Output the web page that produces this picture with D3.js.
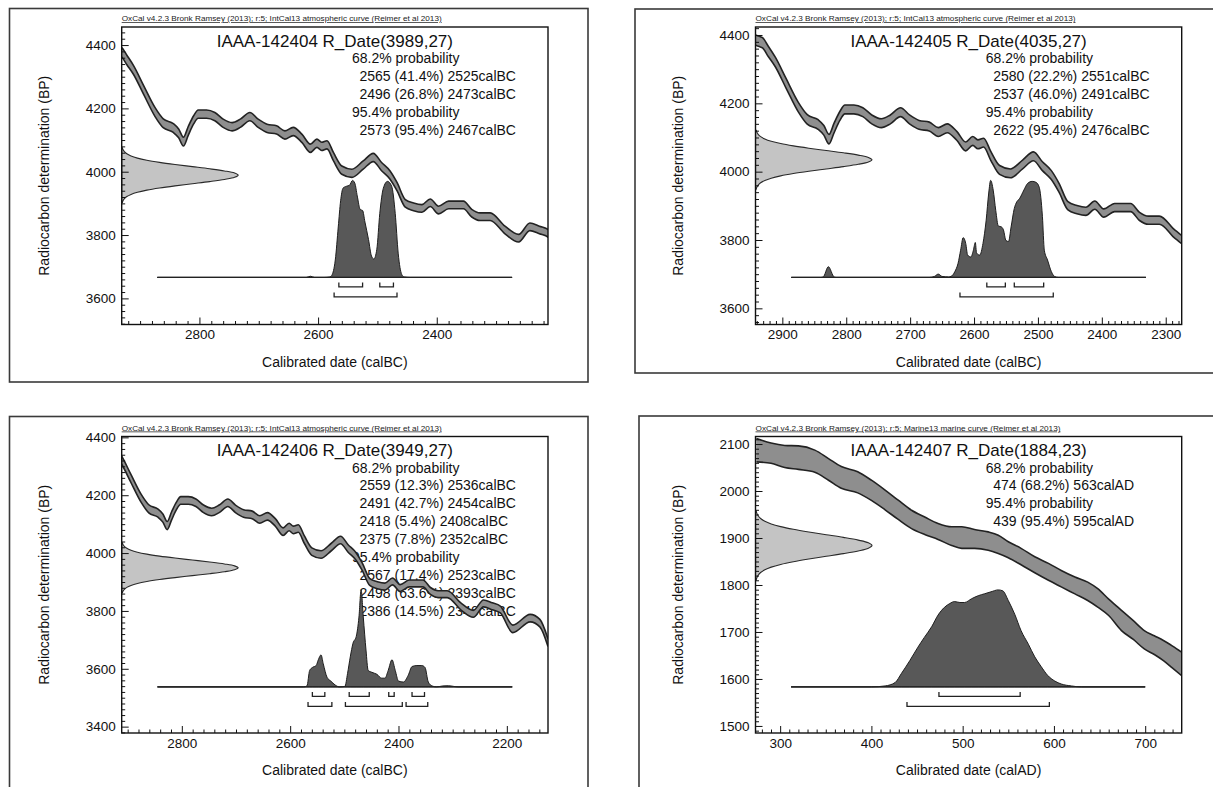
<!DOCTYPE html>
<html>
<head>
<meta charset="utf-8">
<script src="https://cdn.jsdelivr.net/npm/d3@7"></script>
<style>
  body { margin: 0; background: #fff; }
  svg { display: block; font-family: "Liberation Sans", Arial, sans-serif; }
</style>
</head>
<body>
<svg id="chart" width="1213" height="787"></svg>
<script>
(function(d3) {
    "use strict";

// IntCal13 atmospheric curve (calBC, BP mean, BP 1 sigma)
var intcalYear = [2943, 2936, 2931, 2922, 2911, 2894, 2875, 2861, 2844, 2835, 2827, 2819, 2810, 2802, 2788,
    2774, 2760, 2745, 2731, 2715, 2701, 2686, 2670, 2656, 2642, 2627, 2613, 2602, 2594, 2585, 2574, 2560,
    2543, 2524, 2507, 2493, 2479, 2467, 2453, 2439, 2425, 2411, 2397, 2380, 2355, 2341, 2327, 2310, 2285,
    2262, 2243, 2227, 2212, 2189, 2157, 2139, 2124];
var intcalBP = [4386, 4381, 4377, 4352, 4321, 4258, 4189, 4153, 4138, 4121, 4095, 4128, 4163, 4182, 4182,
    4174, 4153, 4142, 4153, 4174, 4153, 4137, 4132, 4116, 4127, 4105, 4074, 4090, 4080, 4085, 4047, 4005,
    3995, 4021, 4045, 4016, 3990, 3953, 3900, 3889, 3884, 3902, 3879, 3895, 3895, 3869, 3858, 3858, 3816,
    3790, 3826, 3816, 3805, 3738, 3775, 3758, 3690];
var intcalSigma = [15, 15, 15, 15, 14, 14, 14, 14, 14, 14, 14, 14, 13, 13, 13,
    13, 13, 13, 13, 13, 13, 13, 13, 13, 13, 13, 13, 13, 13, 13, 13, 13,
    13, 13, 13, 13, 13, 13, 12, 12, 12, 12, 12, 12, 12, 12, 12, 12, 12,
    12, 12, 12, 12, 13, 13, 13, 13];

// Marine13 curve (calAD, upper and lower edge of the band, BP)
var marineYear = [274, 290, 305, 320, 338, 353, 367, 385, 400, 415, 429, 444, 459, 473, 488, 499, 513, 528,
    539, 550, 564, 579, 594, 608, 623, 637, 648, 660, 674, 687, 699, 710, 720, 730, 740];
var marineHi = [2112, 2102, 2097, 2096, 2087, 2069, 2052, 2041, 2023, 2002, 1981, 1959, 1944, 1931, 1924,
    1924, 1918, 1913, 1906, 1892, 1878, 1860, 1846, 1831, 1817, 1806, 1792, 1770, 1746, 1724, 1703, 1692,
    1682, 1670, 1657];
var marineLo = [2062, 2059, 2050, 2046, 2040, 2023, 2006, 1996, 1980, 1960, 1940, 1920, 1907, 1897, 1884,
    1878, 1878, 1874, 1867, 1858, 1843, 1826, 1810, 1796, 1781, 1767, 1753, 1735, 1703, 1684, 1664, 1652,
    1639, 1623, 1607];

// radiocarbon likelihood on the BP axis (offset in sigma, relative height)
var likeOffset = [3.2, 3, 2.75, 2.5, 2.25, 2, 1.75, 1.5, 1.25, 1, 0.75, 0.5, 0.25, 0,
    -0.25, -0.5, -0.75, -1, -1.25, -1.5, -1.75, -2, -2.25, -2.5, -2.75, -3, -3.2];
var likeDensity = [0.006, 0.011, 0.023, 0.044, 0.08, 0.135, 0.216, 0.325, 0.458, 0.607, 0.755, 0.882, 0.969, 1,
    0.969, 0.882, 0.755, 0.607, 0.458, 0.325, 0.216, 0.135, 0.08, 0.044, 0.023, 0.011, 0.006];

var sampleName = ["IAAA-142404", "IAAA-142405", "IAAA-142406", "IAAA-142407"];
var sampleBP = [3989, 4035, 3949, 1884];
var sampleErr = [27, 27, 27, 23];
var calUnit = ["calBC", "calBC", "calBC", "calAD"];

// calibrated distributions (calendar year, relative probability)
var post1Year = [2871, 2620, 2613, 2606, 2590, 2580, 2577, 2571, 2566, 2562, 2558, 2552, 2547, 2542, 2538,
    2534, 2529, 2525, 2521, 2515, 2510, 2506, 2501, 2496, 2490, 2483, 2476, 2470, 2465, 2459, 2455, 2445, 2273];
var post1Prob = [0, 0, 0.012, 0, 0, 0.005, 0.02, 0.18, 0.52, 0.79, 0.92, 0.94, 0.95, 1.0, 0.97,
    0.84, 0.70, 0.69, 0.57, 0.39, 0.22, 0.19, 0.29, 0.66, 0.92, 0.99, 0.94, 0.66, 0.25, 0.03, 0.005, 0, 0];

var post2Year = [2886, 2840, 2836, 2828, 2819, 2815, 2670, 2662, 2656, 2650, 2640, 2636, 2630, 2625, 2621,
    2617, 2613, 2610, 2605, 2601, 2598, 2596, 2591, 2586, 2581, 2577, 2574, 2570, 2566, 2562, 2557, 2554,
    2550, 2546, 2542, 2537, 2533, 2529, 2522, 2516, 2509, 2503, 2498, 2493, 2490, 2485, 2479, 2474, 2468, 2331];
var post2Prob = [0, 0, 0.005, 0.11, 0.005, 0, 0, 0.01, 0.034, 0.01, 0.005, 0.01, 0.06, 0.145, 0.28,
    0.41, 0.35, 0.23, 0.21, 0.28, 0.36, 0.25, 0.23, 0.35, 0.59, 0.87, 1.0, 0.9, 0.69, 0.53, 0.52, 0.49,
    0.38, 0.37, 0.52, 0.71, 0.78, 0.81, 0.9, 0.97, 0.99, 0.98, 0.93, 0.63, 0.28, 0.18, 0.06, 0.01, 0, 0];

var post3Year = [2845, 2575, 2569, 2564, 2559, 2552, 2548, 2543, 2539, 2532, 2525, 2517, 2509, 2499, 2494,
    2489, 2484, 2478, 2473, 2469, 2465, 2460, 2456, 2449, 2440, 2431, 2425, 2419, 2412, 2406, 2400, 2391,
    2382, 2375, 2366, 2357, 2351, 2345, 2338, 2330, 2318, 2308, 2298, 2290, 2190];
var post3Prob = [0, 0, 0.01, 0.17, 0.2, 0.22, 0.28, 0.33, 0.24, 0.10, 0.06, 0.02, 0, 0.005, 0.14,
    0.31, 0.45, 0.52, 0.72, 1.0, 0.72, 0.38, 0.17, 0.15, 0.13, 0.09, 0.09, 0.17, 0.28, 0.17, 0.06, 0.05,
    0.12, 0.21, 0.22, 0.22, 0.2, 0.05, 0.01, 0, 0.01, 0.012, 0.005, 0, 0];

var post4Year = [312, 400, 415, 426, 433, 442, 451, 458, 466, 473, 480, 486, 491, 497, 502, 510, 517, 524,
    531, 539, 544, 550, 557, 564, 572, 579, 586, 593, 601, 608, 619, 630, 700];
var post4Prob = [0, 0, 0.01, 0.045, 0.14, 0.27, 0.41, 0.51, 0.62, 0.74, 0.82, 0.86, 0.88, 0.87, 0.87, 0.91,
    0.94, 0.96, 0.98, 1.0, 0.99, 0.89, 0.75, 0.58, 0.44, 0.31, 0.21, 0.12, 0.06, 0.03, 0.01, 0, 0];

// 68.2% and 95.4% ranges with their share
var ranges68 = [[[2565, 2525], [2496, 2473]], [[2580, 2551], [2537, 2491]],
    [[2559, 2536], [2491, 2454], [2418, 2408], [2375, 2352]], [[474, 563]]];
var pct68 = [[41.4, 26.8], [22.2, 46.0], [12.3, 42.7, 5.4, 7.8], [68.2]];
var ranges95 = [[[2573, 2467]], [[2622, 2476]], [[2567, 2523], [2498, 2393], [2386, 2346]], [[439, 595]]];
var pct95 = [[95.4], [95.4], [17.4, 63.6, 14.5], [95.4]];

// axes
var xDomains = [[2931, 2212.5], [2942, 2275], [2911, 2124], [273, 740]];
var yDomains = [[3517.5, 4457], [3552.7, 4423.4], [3378, 4403], [1485, 2116]];
var xMajor = [[2800, 2600, 2400], [2900, 2800, 2700, 2600, 2500, 2400, 2300],
    [2800, 2600, 2400, 2200], [300, 400, 500, 600, 700]];
var yMajor = [[3600, 3800, 4000, 4200, 4400], [3600, 3800, 4000, 4200, 4400],
    [3400, 3600, 3800, 4000, 4200, 4400], [1500, 1600, 1700, 1800, 1900, 2000, 2100]];
var xMinorStep = [20, 10, 20, 10];
var yMinorStep = [20, 20, 20, 10];
var xTitle = ["Calibrated date (calBC)", "Calibrated date (calBC)", "Calibrated date (calBC)", "Calibrated date (calAD)"];
var headers = [
    "OxCal v4.2.3 Bronk Ramsey (2013); r:5; IntCal13 atmospheric curve (Reimer et al 2013)",
    "OxCal v4.2.3 Bronk Ramsey (2013); r:5; IntCal13 atmospheric curve (Reimer et al 2013)",
    "OxCal v4.2.3 Bronk Ramsey (2013); r:5; IntCal13 atmospheric curve (Reimer et al 2013)",
    "OxCal v4.2.3 Bronk Ramsey (2013); r:5; Marine13 marine curve (Reimer et al 2013)"];

var postYear = [post1Year, post2Year, post3Year, post4Year],
    postProb = [post1Prob, post2Prob, post3Prob, post4Prob];

// frame [x, y, w, h] and plot box [left, top, right, bottom]
var layout = [
    {frame: [9.5, 8.5, 578.5, 373.5], plot: [121.7, 27, 548, 324.5]},
    {frame: [635, 9, 620, 364], plot: [755.5, 27, 1181.7, 324.5]},
    {frame: [9.5, 416.5, 578.5, 420], plot: [121.7, 436.5, 548, 733]},
    {frame: [639, 416, 620, 420], plot: [755.5, 436.5, 1181.7, 733]}
];

var intcal = intcalYear.map(function(yr, k) {
    return {t: yr, lo: intcalBP[k] - intcalSigma[k], hi: intcalBP[k] + intcalSigma[k]};
});
var marine = marineYear.map(function(yr, k) {
    return {t: yr, lo: marineLo[k], hi: marineHi[k]};
});

var svg = d3.select("#chart");
var defs = svg.append("defs");

layout.forEach(function(lay, i) {
    var L = lay.plot[0], T = lay.plot[1], R = lay.plot[2], B = lay.plot[3],
        x = d3.scaleLinear().domain(xDomains[i]).range([L, R]),
        y = d3.scaleLinear().domain(yDomains[i]).range([B, T]),
        base = T + 250.4,
        p = d3.scaleLinear().domain([0, 1]).range([base, base - 97]),
        g = svg.append("g");

    defs.append("clipPath")
        .attr("id", "clip" + i)
        .append("rect")
        .attr("x", L).attr("y", T)
        .attr("width", R - L).attr("height", B - T);

    g.append("rect")
        .attr("x", lay.frame[0]).attr("y", lay.frame[1])
        .attr("width", lay.frame[2]).attr("height", lay.frame[3])
        .attr("fill", "none")
        .attr("stroke", "#3a3a3a")
        .attr("stroke-width", 1.6);

    // texts (drawn first: the curves sit on top of them as in OxCal)
    g.append("text")
        .attr("x", L).attr("y", T - 6)
        .attr("font-size", 7.5)
        .attr("text-decoration", "underline")
        .attr("textLength", i === 3 ? 305 : 320)
        .attr("lengthAdjust", "spacingAndGlyphs")
        .attr("fill", "#222")
        .text(headers[i]);

    g.append("text")
        .attr("x", (L + R) / 2).attr("y", T + 19.5)
        .attr("text-anchor", "middle")
        .attr("font-size", 17)
        .attr("fill", "#111")
        .text(sampleName[i] + " R_Date(" + sampleBP[i] + "," + sampleErr[i] + ")");

    var lines = [{s: "68.2% probability", ind: 0}];
    ranges68[i].forEach(function(r, k) {
        lines.push({s: r[0] + " (" + pct68[i][k].toFixed(1) + "%) " + r[1] + calUnit[i], ind: 1});
    });
    lines.push({s: "95.4% probability", ind: 0});
    ranges95[i].forEach(function(r, k) {
        lines.push({s: r[0] + " (" + pct95[i][k].toFixed(1) + "%) " + r[1] + calUnit[i], ind: 1});
    });
    g.selectAll(null)
        .data(lines)
        .enter().append("text")
        .attr("x", function(d) { return R - 196 + d.ind * 7.5; })
        .attr("y", function(d, k) { return T + 36 + k * 17.9; })
        .attr("font-size", 14)
        .attr("fill", "#111")
        .text(function(d) { return d.s; });

    var plot = g.append("g").attr("clip-path", "url(#clip" + i + ")");

    // calibration curve band
    var band = i === 3 ? marine : intcal;
    plot.append("path")
        .attr("fill", "#8e8e8e")
        .attr("d", d3.area()
            .curve(d3.curveMonotoneX)
            .x(function(d) { return x(d.t); })
            .y0(function(d) { return y(d.lo); })
            .y1(function(d) { return y(d.hi); })(band));
    ["lo", "hi"].forEach(function(k) {
        plot.append("path")
            .attr("fill", "none")
            .attr("stroke", "#222")
            .attr("stroke-width", 1.6)
            .attr("d", d3.line()
                .curve(d3.curveMonotoneX)
                .x(function(d) { return x(d.t); })
                .y(function(d) { return y(d[k]); })(band));
    });

    // radiocarbon likelihood
    var like = likeOffset.map(function(o, k) { return {bp: sampleBP[i] + o * sampleErr[i], w: likeDensity[k]}; });
    plot.append("path")
        .attr("fill", "#c4c4c4")
        .attr("stroke", "#2a2a2a")
        .attr("stroke-width", 1.1)
        .attr("d", d3.area()
            .curve(d3.curveCatmullRom)
            .y(function(d) { return y(d.bp); })
            .x0(L)
            .x1(function(d) { return L + d.w * 116.5; })(like));

    // calibrated distribution
    var post = postYear[i].map(function(t, k) { return {t: t, v: postProb[i][k]}; });
    plot.append("path")
        .attr("fill", "#585858")
        .attr("stroke", "#1e1e1e")
        .attr("stroke-width", 1)
        .attr("d", d3.area()
            .curve(d3.curveMonotoneX)
            .x(function(d) { return x(d.t); })
            .y0(base)
            .y1(function(d) { return p(d.v); })(post));

    plot.append("line")
        .attr("x1", x(postYear[i][0])).attr("x2", x(postYear[i][postYear[i].length - 1]))
        .attr("y1", base).attr("y2", base)
        .attr("stroke", "#222")
        .attr("stroke-width", 1.1);

    // range brackets
    [ranges68[i], ranges95[i]].forEach(function(rs, row) {
        var yy = base + 9.5 + row * 10;
        rs.forEach(function(r) {
            plot.append("path")
                .attr("fill", "none")
                .attr("stroke", "#222")
                .attr("stroke-width", 1.3)
                .attr("d", "M" + x(r[0]) + "," + (yy - 4.5) + "V" + yy + "H" + x(r[1]) + "V" + (yy - 4.5));
        });
    });

    // axes with inward ticks
    function minor(dom, step, major) {
        var lo = Math.min(dom[0], dom[1]), hi = Math.max(dom[0], dom[1]);
        return d3.range(Math.ceil(lo / step) * step, hi, step).filter(function(v) { return major.indexOf(v) < 0; });
    }
    function style(sel) {
        sel.select(".domain").remove();
        sel.selectAll("line").attr("stroke", "#111");
        sel.selectAll("text").attr("font-size", 13.5).attr("fill", "#111")
            .attr("font-family", "Liberation Sans, Arial, sans-serif");
    }

    g.append("g")
        .attr("transform", "translate(0," + B + ")")
        .call(d3.axisBottom(x).tickValues(minor(xDomains[i], xMinorStep[i], xMajor[i]))
            .tickSize(-3.5).tickSizeOuter(0).tickFormat(""))
        .call(style);
    g.append("g")
        .attr("transform", "translate(0," + B + ")")
        .call(d3.axisBottom(x).tickValues(xMajor[i]).tickSize(-7).tickSizeOuter(0)
            .tickPadding(5).tickFormat(d3.format("d")))
        .call(style);
    g.append("g")
        .attr("transform", "translate(" + L + ",0)")
        .call(d3.axisLeft(y).tickValues(minor(yDomains[i], yMinorStep[i], yMajor[i]))
            .tickSize(-3.5).tickSizeOuter(0).tickFormat(""))
        .call(style);
    g.append("g")
        .attr("transform", "translate(" + L + ",0)")
        .call(d3.axisLeft(y).tickValues(yMajor[i]).tickSize(-7).tickSizeOuter(0)
            .tickPadding(6).tickFormat(d3.format("d")))
        .call(style);

    g.append("rect")
        .attr("x", L).attr("y", T)
        .attr("width", R - L).attr("height", B - T)
        .attr("fill", "none")
        .attr("stroke", "#111")
        .attr("stroke-width", 1.4);

    g.append("text")
        .attr("x", (L + R) / 2).attr("y", B + 42)
        .attr("text-anchor", "middle")
        .attr("font-size", 14)
        .attr("fill", "#111")
        .text(xTitle[i]);

    g.append("text")
        .attr("transform", "translate(" + (L - 73) + "," + ((T + B) / 2) + ") rotate(-90)")
        .attr("text-anchor", "middle")
        .attr("font-size", 14)
        .attr("fill", "#111")
        .text("Radiocarbon determination (BP)");
});

}(d3));
</script>
</body>
</html>
